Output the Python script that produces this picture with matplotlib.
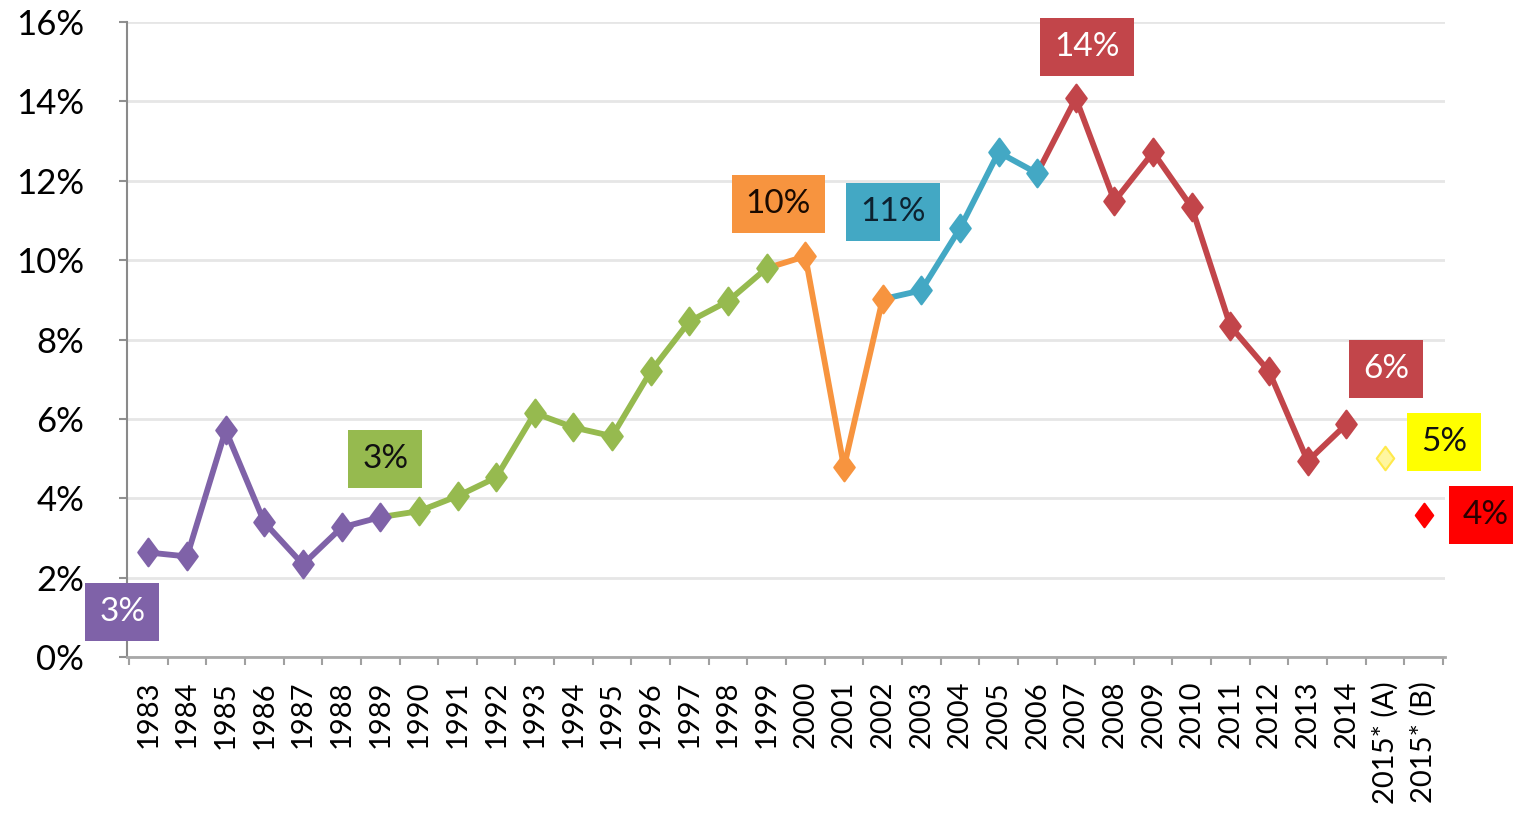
import matplotlib
matplotlib.use("Agg")
import matplotlib.pyplot as plt
from matplotlib.path import Path
import numpy as np

plt.rcParams['font.family'] = ['Lato', 'DejaVu Sans']

categories = ["1983", "1984", "1985", "1986", "1987", "1988", "1989", "1990", "1991", "1992",
              "1993", "1994", "1995", "1996", "1997", "1998", "1999", "2000", "2001", "2002",
              "2003", "2004", "2005", "2006", "2007", "2008", "2009", "2010", "2011", "2012",
              "2013", "2014", "2015* (A)", "2015* (B)"]
values = [2.64, 2.54, 5.72, 3.40, 2.34, 3.27, 3.53, 3.68, 4.06, 4.53,
          6.15, 5.79, 5.57, 7.20, 8.46, 8.97, 9.80, 10.10, 4.79, 9.02,
          9.24, 10.80, 12.72, 12.19, 14.08, 11.49, 12.72, 11.33, 8.34, 7.20,
          4.94, 5.87, 5.01, 3.58]
eras = (["purple"] * 7 + ["green"] * 10 + ["orange"] * 3 + ["blue"] * 4 +
        ["red"] * 8 + ["yellow", "brightred"])
connected = [True] * 32 + [False, False]

colors = {"purple": "#7F62A8", "green": "#96BA4F", "orange": "#F7943F",
          "blue": "#43A8C4", "red": "#C2454A", "yellow": "#FFE94A", "brightred": "#FF0000"}
face_colors = dict(colors, yellow="#FFF6A0")

# labels: (category index, text, background, text colour, offset px)
label_idx = [0, 6, 17, 21, 24, 31, 32, 33]
label_txt = ["3%", "3%", "10%", "11%", "14%", "6%", "5%", "4%"]
label_bg = ["purple", "green", "orange", "blue", "red", "red", "yellowbox", "brightred"]
label_fg = ["white", "#111111", "#1a0a00", "#0d2230", "white", "white", "#111111", "#2a0000"]
label_off = [(-26, -60), (5, 58), (-27, 52), (-67, 16), (11, 51), (40, 55), (59, 16), (62, 0)]
box_colors = dict(colors, yellowbox="#FFFF00")

diamond = Path([(0, 1), (0.74, 0), (0, -1), (-0.74, 0), (0, 1)],
               [Path.MOVETO, Path.LINETO, Path.LINETO, Path.LINETO, Path.CLOSEPOLY])

fig = plt.figure(figsize=(15.13, 8.31), dpi=100)
ax = fig.add_axes([0.084, 0.209, 0.871, 0.7645])

x = np.arange(len(categories))
for i in range(1, len(values)):
    if connected[i]:
        ax.plot(x[i - 1:i + 1], values[i - 1:i + 1], color=colors[eras[i]], lw=4.2,
                solid_capstyle='round', zorder=3)
for i in range(len(values)):
    ms = 20 if eras[i] not in ("yellow", "brightred") else 17
    ax.plot(x[i], values[i], marker=diamond, ms=ms, color=face_colors[eras[i]],
            mec=colors[eras[i]], mew=1.5, zorder=4)

for idx, txt, bg, fg, off in zip(label_idx, label_txt, label_bg, label_fg, label_off):
    ax.annotate(txt, xy=(x[idx], values[idx]), xytext=off, textcoords='offset pixels',
                ha='center', va='center', fontsize=24, color=fg, zorder=6,
                annotation_clip=False,
                bbox=dict(boxstyle='square,pad=0.42', fc=box_colors[bg], ec='none'))

ax.set_xlim(-0.55, len(categories) - 0.45)
ax.set_ylim(0, 16)
ax.set_yticks(np.arange(0, 17, 2))
ax.set_yticklabels([f"{v}%" for v in range(0, 17, 2)], fontsize=25)
ax.set_xticks(x)
ax.set_xticklabels(categories, rotation=90, fontsize=21)
ax.set_xticks(np.arange(-0.5, len(categories), 1), minor=True)
ax.tick_params(axis='x', which='major', length=0, pad=17)
ax.tick_params(axis='x', which='minor', length=6, color='#A0A0A0', width=1.5)
ax.tick_params(axis='y', length=6, color='#909090', width=1.5, pad=25)
ax.grid(axis='y', color='#E6E6E6', lw=2)
ax.set_axisbelow(True)
for s in ['top', 'right']:
    ax.spines[s].set_visible(False)
ax.spines['left'].set_color('#8A8A8A')
ax.spines['left'].set_linewidth(1.5)
ax.spines['bottom'].set_color('#A8A8A8')
ax.spines['bottom'].set_linewidth(2)

fig.savefig("out.png", dpi=100)
